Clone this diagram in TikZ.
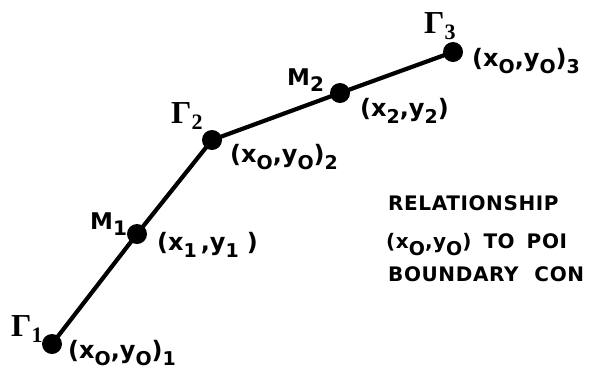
\documentclass[tikz,border=0pt]{standalone}
\usepackage{fontspec}
\setmainfont{DejaVu Sans}
\newfontfamily\gfont{Liberation Serif}
\newcommand{\lsub}[1]{\raisebox{-7pt}{\fontsize{19}{19}\selectfont #1}}
\newcommand{\gsub}[1]{\raisebox{-6pt}{\fontsize{22}{22}\selectfont\bfseries #1}}
\begin{document}
\begin{tikzpicture}[x=1pt,y=-1pt,
  seg/.style={line width=4.2pt},
  dot/.style={circle,fill=black,inner sep=0pt,minimum size=20pt},
  lab/.style={inner sep=0pt,anchor=base west,font=\fontsize{24}{24}\selectfont\bfseries},
  mlab/.style={inner sep=0pt,anchor=base west,font=\fontsize{23}{23}\selectfont\bfseries},
  gam/.style={inner sep=0pt,anchor=base west,font=\fontsize{32}{32}\selectfont\gfont\bfseries},
  captxt/.style={inner sep=0pt,anchor=base west,font=\fontsize{20}{20}\selectfont\bfseries\addfontfeatures{LetterSpace=3}}]
\useasboundingbox (0,0) rectangle (593,381);
\clip (0,0) rectangle (593,381);
\node[dot] (g1) at (52,344) {};
\node[dot] (m1) at (137,234) {};
\node[dot] (g2) at (212,140) {};
\node[dot] (m2) at (340,93) {};
\node[dot] (g3) at (453,52) {};
\draw[seg] (g1.center) -- (m1.center) -- (g2.center) -- (m2.center) -- (g3.center);
% labels
\node[gam] (lg1) at (11,336) {Γ\gsub{1}};
\node[lab] (lp1) at (68,358) {(x\lsub{O},y\lsub{O})\lsub{1}};
\node[mlab] (lm1) at (90,229) {M\raisebox{-6pt}{\fontsize{20}{20}\selectfont 1}};
\node[lab] (lx1) at (157,250) {(x\lsub{1}\,,y\lsub{1}\,\,)};
\node[gam] (lg2) at (171,123) {Γ\gsub{2}};
\node[lab] (lp2) at (230,162) {(x\lsub{O},y\lsub{O})\lsub{2}};
\node[mlab] (lm2) at (287,85) {M\raisebox{-6pt}{\fontsize{20}{20}\selectfont 2}};
\node[lab] (lx2) at (360,116) {(x\lsub{2},y\lsub{2})};
\node[gam] (lg3) at (424,33) {Γ\gsub{3}};
\node[lab] (lp3) at (472,66) {(x\lsub{O},y\lsub{O})\lsub{3}};
% caption
\node[captxt] (c1) at (388,210) {RELATIONSHIP};
\node[captxt] (c2) at (386,248) {(x\lsub{O},y\lsub{O})\hspace{12pt}TO\hspace{12pt}POI};
\node[captxt] (c3) at (388,281) {BOUNDARY\hspace{16pt}CON};
\end{tikzpicture}
\end{document}
